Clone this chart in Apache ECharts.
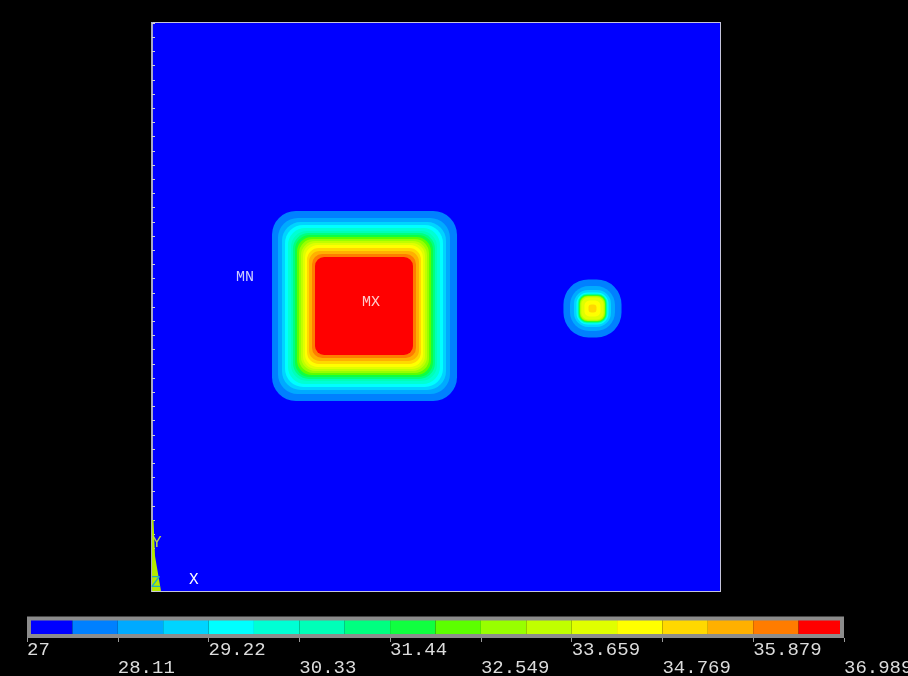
<!DOCTYPE html>
<html>
<head>
<meta charset="utf-8">
<script src="https://cdn.jsdelivr.net/npm/echarts@6/dist/echarts.min.js"></script>
<style>
  html, body { margin: 0; padding: 0; background: #000; }
  #chart { width: 908px; height: 676px; }
</style>
</head>
<body>
<div id="chart"></div>
<script>
// Contour levels of the nodal solution (18 bands between min and max)
const levels = [27, 27.555, 28.11, 28.665, 29.22, 29.775, 30.33, 30.885, 31.44, 31.994,
  32.549, 33.104, 33.659, 34.214, 34.769, 35.324, 35.879, 36.434, 36.989];
const bandColors = ['#0000ff', '#0080ff', '#00aaff', '#00d4ff', '#00ffff', '#00ffd4',
  '#00ffb8', '#00ff80', '#10ff40', '#5cff00', '#98ff00', '#c0ff00', '#e0ff00',
  '#ffff00', '#ffd800', '#ffb000', '#ff7c00', '#ff0000'];
const tickLabels = ['27', '28.11', '29.22', '30.33', '31.44', '32.549', '33.659',
  '34.769', '35.879', '36.989'];

// Plate outline (model units)
const plate = [0, 100, 0, 100];

// Hot square: contour boundaries, outermost (27.555) to innermost (36.434)
const bigLeft = [21.13, 22.18, 22.89, 23.42, 23.94, 24.47, 24.82, 25.18, 25.53, 25.88,
  26.23, 26.58, 26.94, 27.29, 27.64, 28.17, 28.70];
const bigRight = [53.70, 52.46, 51.76, 51.23, 50.70, 50.18, 49.82, 49.47, 49.12, 48.77,
  48.42, 48.06, 47.71, 47.36, 47.01, 46.48, 45.95];
const bigBottom = [33.45, 34.68, 35.39, 35.92, 36.44, 36.97, 37.32, 37.68, 38.03, 38.38,
  38.73, 39.08, 39.44, 39.96, 40.49, 41.02, 41.55];
const bigTop = [66.90, 65.67, 64.96, 64.44, 63.91, 63.38, 63.03, 62.68, 62.32, 61.97,
  61.62, 61.27, 60.92, 60.39, 59.86, 59.33, 58.80];
const bigCorner = [4.2, 3.5, 3.3, 3.2, 3.0, 2.8, 2.8, 2.6, 2.6, 2.5, 2.5, 2.3, 2.3, 2.1,
  1.9, 1.8, 1.6];
const bigLevel = [27.555, 28.11, 28.665, 29.22, 29.775, 30.33, 30.885, 31.44, 31.994,
  32.549, 33.104, 33.659, 34.214, 34.769, 35.324, 35.879, 36.434];

// Small hot spot: centre and half-width of each contour boundary
const spotX = 77.55;
const spotY = 49.74;
const spotHalf = [5.11, 3.96, 3.26, 2.82, 2.64, 2.55, 2.46, 2.38, 2.29, 2.20, 2.11, 1.94,
  1.41, 0.70];
const spotCorner = [4.40, 3.35, 2.50, 2.00, 1.76, 1.60, 1.50, 1.45, 1.40, 1.35, 1.30,
  1.20, 0.90, 0.50];
const spotLevel = [27.555, 28.11, 28.665, 29.22, 29.775, 30.33, 30.885, 31.44, 31.994,
  32.549, 33.104, 33.659, 34.214, 34.769];

// Extreme-value markers
const markers = [
  { name: 'MX', value: [38.56, 50.88] },
  { name: 'MN', value: [16.37, 55.28] }
];

// ---- build series data: [left, right, bottom, top, cornerRadius, level]
const contourData = [[plate[0], plate[1], plate[2], plate[3], 0, levels[0]]];
bigLevel.forEach((v, i) => {
  contourData.push([bigLeft[i], bigRight[i], bigBottom[i], bigTop[i], bigCorner[i], v]);
});
spotLevel.forEach((v, i) => {
  const h = spotHalf[i];
  contourData.push([spotX - h, spotX + h, spotY - h, spotY + h, spotCorner[i], v]);
});

const barData = bandColors.map((c, i) => [i, i + 1, 0, 1, 0, levels[i]]);

const pieces = bandColors.map((c, i) => (
  i < bandColors.length - 1
    ? { gte: levels[i], lt: levels[i + 1], color: c }
    : { gte: levels[i], lte: levels[i + 1], color: c }
));

function renderBand(params, api) {
  const p1 = api.coord([api.value(0), api.value(3)]);
  const p2 = api.coord([api.value(1), api.value(2)]);
  const r = api.size([api.value(4), api.value(4)])[0];
  return {
    type: 'rect',
    shape: { x: p1[0], y: p1[1], width: p2[0] - p1[0], height: p2[1] - p1[1], r: r },
    style: { fill: api.visual('color') }
  };
}

const mono = '"Liberation Mono", "DejaVu Sans Mono", monospace';

const chart = echarts.init(document.getElementById('chart'), null, { renderer: 'canvas' });
chart.setOption({
  backgroundColor: '#000000',
  animation: false,
  grid: [
    { left: 152, top: 23, width: 568, height: 568, show: true, outerBoundsMode: 'none',
      containLabel: false,
      backgroundColor: '#0000ff', borderColor: '#c4c4dc', borderWidth: 2 },
    { left: 27, top: 617, width: 817, height: 21, show: false, outerBoundsMode: 'none',
      containLabel: false }
  ],
  xAxis: [
    { gridIndex: 0, type: 'value', min: 0, max: 100, show: false },
    { gridIndex: 1, type: 'value', min: 0, max: 18, interval: 2,
      axisLine: { show: false },
      axisTick: { show: true, length: 4, lineStyle: { color: '#9a9a9a', width: 1 } },
      splitLine: { show: false },
      axisLabel: {
        show: true, align: 'left', margin: 3, color: '#dcdcdc',
        fontFamily: mono, fontSize: 19, lineHeight: 18,
        showMinLabel: true, showMaxLabel: true, hideOverlap: false,
        formatter: (v) => {
          const i = Math.round(v / 2);
          return i % 2 === 0 ? tickLabels[i] : '\n' + tickLabels[i];
        }
      }
    }
  ],
  yAxis: [
    { gridIndex: 0, type: 'value', min: 0, max: 100, interval: 2.5, z: 10,
      axisLine: { show: true, lineStyle: { color: '#a8a8c4', width: 2 } },
      axisTick: { show: true, inside: true, length: 3, lineStyle: { color: '#d0d0d0', width: 1 } },
      axisLabel: { show: false },
      splitLine: { show: false }
    },
    { gridIndex: 1, type: 'value', min: 0, max: 1, show: false }
  ],
  visualMap: {
    type: 'piecewise', show: false, dimension: 5, seriesIndex: [0, 2],
    pieces: pieces
  },
  series: [
    {
      type: 'custom', name: 'contour', xAxisIndex: 0, yAxisIndex: 0,
      clip: true, renderItem: renderBand, data: contourData,
      encode: { x: [0, 1], y: [2, 3] }, silent: true
    },
    {
      type: 'scatter', xAxisIndex: 0, yAxisIndex: 0, symbolSize: 0, z: 5,
      data: markers, silent: true,
      label: {
        show: true, position: 'inside', formatter: '{b}',
        color: '#ffffff', fontFamily: mono, fontSize: 15
      }
    },
    {
      type: 'custom', name: 'legend', xAxisIndex: 1, yAxisIndex: 1,
      renderItem: renderBand, data: barData,
      encode: { x: [0, 1], y: [2, 3] }, silent: true
    },
    {
      type: 'custom', name: 'frame', xAxisIndex: 1, yAxisIndex: 1, z: 4,
      data: [[0, 18, 0, 1]], silent: true,
      renderItem: (params, api) => {
        const p1 = api.coord([api.value(0), api.value(3)]);
        const p2 = api.coord([api.value(1), api.value(2)]);
        return {
          type: 'rect',
          shape: { x: p1[0] + 2, y: p1[1] + 1.5, width: p2[0] - p1[0] - 4, height: p2[1] - p1[1] - 3.5 },
          style: { fill: 'none', stroke: '#8c8c8c', lineWidth: 4 }
        };
      }
    }
  ],
  graphic: [
    { type: 'polygon', z: 20,
      shape: { points: [[152, 591], [161, 591], [155, 556], [153.5, 520], [152, 520]] },
      style: { fill: '#b4e800' } },
    { type: 'text', z: 21, left: 152, top: 535,
      style: { text: 'Y', fill: '#b8d850', font: '16px ' + mono } },
    { type: 'text', z: 21, left: 151, top: 575,
      style: { text: 'Z', fill: '#20b0c0', font: '16px ' + mono } },
    { type: 'text', z: 21, left: 189, top: 572,
      style: { text: 'X', fill: '#ffffff', font: '16px ' + mono } }
  ]
});
</script>
</body>
</html>
